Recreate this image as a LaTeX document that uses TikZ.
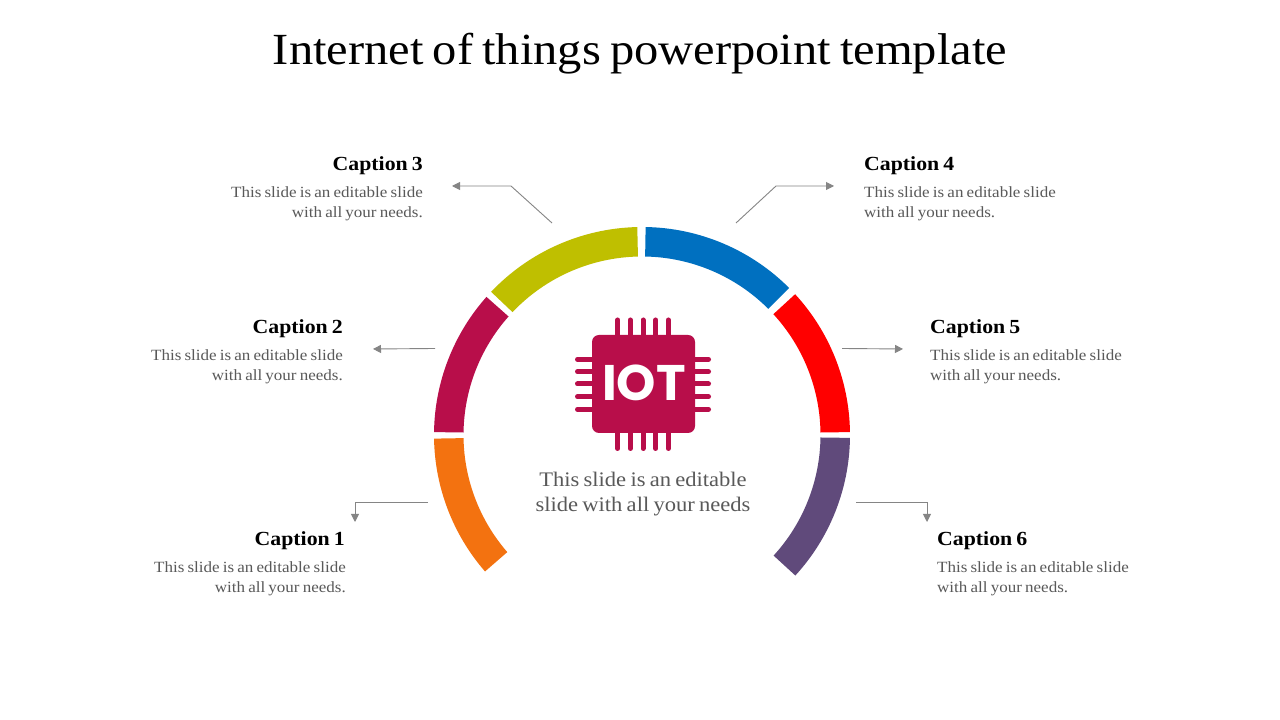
\documentclass[tikz,border=0pt]{standalone}
\usepackage{fontspec}
\setmainfont[FakeStretch=1.09,WordSpace=0.75]{Liberation Serif}
\newfontfamily\iotfont{Poppins}
\usetikzlibrary{arrows.meta}
\definecolor{cOrange}{HTML}{F37210}
\definecolor{cCrimson}{HTML}{B80E4A}
\definecolor{cOlive}{HTML}{BFBF00}
\definecolor{cBlue}{HTML}{0070C0}
\definecolor{cRed}{HTML}{FF0000}
\definecolor{cPurple}{HTML}{604A7B}
\definecolor{cLine}{HTML}{858585}
\definecolor{cText}{HTML}{595959}
\newcommand{\ringseg}[3]{%
  \fill[#1,shift={(642,285)}] (#2:208) arc[start angle=#2,end angle=#3,radius=208]
    -- (#3:178.5) arc[start angle=#3,end angle=#2,radius=178.5] -- cycle;}
\tikzset{
  leader/.style={draw=cLine,line width=0.9pt,-{Triangle[length=8pt,width=8pt]}},
  capt/.style={font=\fontsize{20}{23}\selectfont\bfseries,text=black,inner sep=0pt},
  bodyr/.style={font=\fontsize{15.6}{19.5}\selectfont,text=cText,inner sep=0pt,align=right,anchor=north east},
  bodyl/.style={font=\fontsize{15.6}{19.5}\selectfont,text=cText,inner sep=0pt,align=left,anchor=north west},
  pin/.style={cCrimson,line width=5pt,line cap=round},
}
\begin{document}
\begin{tikzpicture}[x=1pt,y=1pt]
\useasboundingbox (0,0) rectangle (1280,720);
\fill[white] (0,0) rectangle (1280,720);
% title
\node[font=\fontsize{44.5}{54}\selectfont,text=black,inner sep=0pt,anchor=base] (title) at (640,655) {Internet of things powerpoint template};
% ring
\ringseg{cOrange}{181}{221}
\ringseg{cCrimson}{138.4}{179.2}
\ringseg{cOlive}{91.3}{136.5}
\ringseg{cBlue}{45}{89}
\ringseg{cRed}{0.8}{42.6}
\ringseg{cPurple}{-42.5}{-0.8}
% chip
\foreach \x in {617.7,630.3,643,655.7,668.3}{
  \draw[pin] (\x,400) -- (\x,380);
  \draw[pin] (\x,320) -- (\x,271.5);
}
\foreach \y in {359.3,371.7,384,396.7,409.3}{
  \draw[pin] (577.5,720-\y) -- (600,720-\y);
  \draw[pin] (708.5,720-\y) -- (680,720-\y);
}
\fill[cCrimson,rounded corners=7pt] (592,287) rectangle (695,385);
\node[font=\iotfont\bfseries\fontsize{50}{50}\selectfont,text=white,inner sep=0pt,anchor=base] (iot) at (644,319.3) {IOT};
% centre text
\node[font=\fontsize{20.7}{25}\selectfont,text=cText,inner sep=0pt,align=center,anchor=north] (centre) at (643,248) {This slide is an editable\\slide with all your needs};
% captions
\node[capt,anchor=base east] (c3) at (423,549) {Caption 3};
\node[bodyr] (b3) at (423,533.5) {This slide is an editable slide\\with all your needs.};
\node[capt,anchor=base west] (c4) at (864,549) {Caption 4};
\node[bodyl] (b4) at (864,533.5) {This slide is an editable slide\\with all your needs.};
\node[capt,anchor=base east] (c2) at (343,386) {Caption 2};
\node[bodyr] (b2) at (343,370.5) {This slide is an editable slide\\with all your needs.};
\node[capt,anchor=base west] (c5) at (930,386) {Caption 5};
\node[bodyl] (b5) at (930,370.5) {This slide is an editable slide\\with all your needs.};
\node[capt,anchor=base east] (c1) at (345,174) {Caption 1};
\node[bodyr] (b1) at (346,158.5) {This slide is an editable slide\\with all your needs.};
\node[capt,anchor=base west] (c6) at (937,174) {Caption 6};
\node[bodyl] (b6) at (937,158.5) {This slide is an editable slide\\with all your needs.};
% connectors
\coordinate (s3) at (552,497); \coordinate (k3) at (511,534); \coordinate (e3) at (452,534);
\coordinate (s4) at (736,497); \coordinate (k4) at (776,534); \coordinate (e4) at (834,534);
\coordinate (s2) at (435,371.5); \coordinate (e2) at (373,371);
\coordinate (s5) at (842,371.5); \coordinate (e5) at (903,371);
\coordinate (s1) at (428,218); \coordinate (k1) at (355,218); \coordinate (e1) at (355,198);
\coordinate (s6) at (856,218); \coordinate (k6) at (927,218); \coordinate (e6) at (927,198);
\draw[leader] (s3) -- (k3) -- (e3);
\draw[leader] (s4) -- (k4) -- (e4);
\draw[leader] (s2) -- (e2);
\draw[leader] (s5) -- (e5);
\draw[leader] (s1) -- (k1) -- (e1);
\draw[leader] (s6) -- (k6) -- (e6);
\end{tikzpicture}
\end{document}
